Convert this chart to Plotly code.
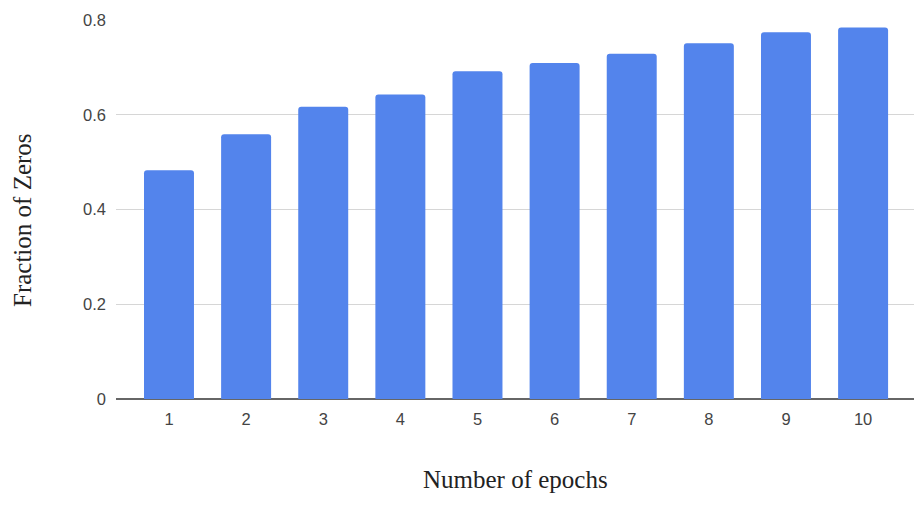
import plotly.graph_objects as go

epochs = [1, 2, 3, 4, 5, 6, 7, 8, 9, 10]
fraction_zeros = [0.483, 0.559, 0.617, 0.643, 0.692, 0.709, 0.729, 0.751, 0.774, 0.784]
x_tick_labels = [str(e) for e in epochs]
y_ticks = [0, 0.2, 0.4, 0.6, 0.8]
y_tick_labels = ["0", "0.2", "0.4", "0.6", "0.8"]

W, H = 924, 508
ml, mr, mt, mb = 116, 10, 20, 109
pw = W - ml - mr
ph = H - mt - mb

fig = go.Figure(go.Bar(
    x=epochs, y=fraction_zeros, width=0.648,
    marker=dict(color="#5384ec", line=dict(width=0)),
))

fig.update_layout(
    width=W, height=H,
    margin=dict(l=ml, r=mr, t=mt, b=mb),
    paper_bgcolor="white", plot_bgcolor="white",
    showlegend=False,
    barcornerradius=3,
    font=dict(family="Liberation Sans, Arial, sans-serif", size=16.5, color="#444444"),
    xaxis=dict(
        range=[0.313, 10.66], tickmode="array", tickvals=epochs, ticktext=x_tick_labels,
        showgrid=False, zeroline=False, showline=False, ticks="",
        tickfont=dict(size=16.5, color="#444444"), ticklabelstandoff=8,
    ),
    yaxis=dict(
        range=[0, 0.8], tickmode="array", tickvals=y_ticks, ticktext=y_tick_labels,
        showgrid=True, gridcolor="#d6d6d6", gridwidth=1.3,
        zeroline=True, zerolinecolor="#666666", zerolinewidth=1.5,
        showline=False, ticks="", tickfont=dict(size=16.5, color="#444444"),
        ticklabelstandoff=9,
    ),
    annotations=[
        dict(text="Number of epochs", xref="paper", yref="paper",
             x=0.5, y=-(479 - (H - mb)) / ph, showarrow=False,
             xanchor="center", yanchor="middle",
             font=dict(family="Liberation Serif, Times New Roman, serif", size=25, color="#222222")),
        dict(text="Fraction of Zeros", xref="paper", yref="paper",
             x=-(ml - 22) / pw, y=(H - mb - 220) / ph, showarrow=False, textangle=-90,
             xanchor="center", yanchor="middle",
             font=dict(family="Liberation Serif, Times New Roman, serif", size=25, color="#222222")),
    ],
)

fig.write_html("out.html", config={"displayModeBar": False},
               post_script="document.body.style.margin='0';document.body.style.padding='0';")
